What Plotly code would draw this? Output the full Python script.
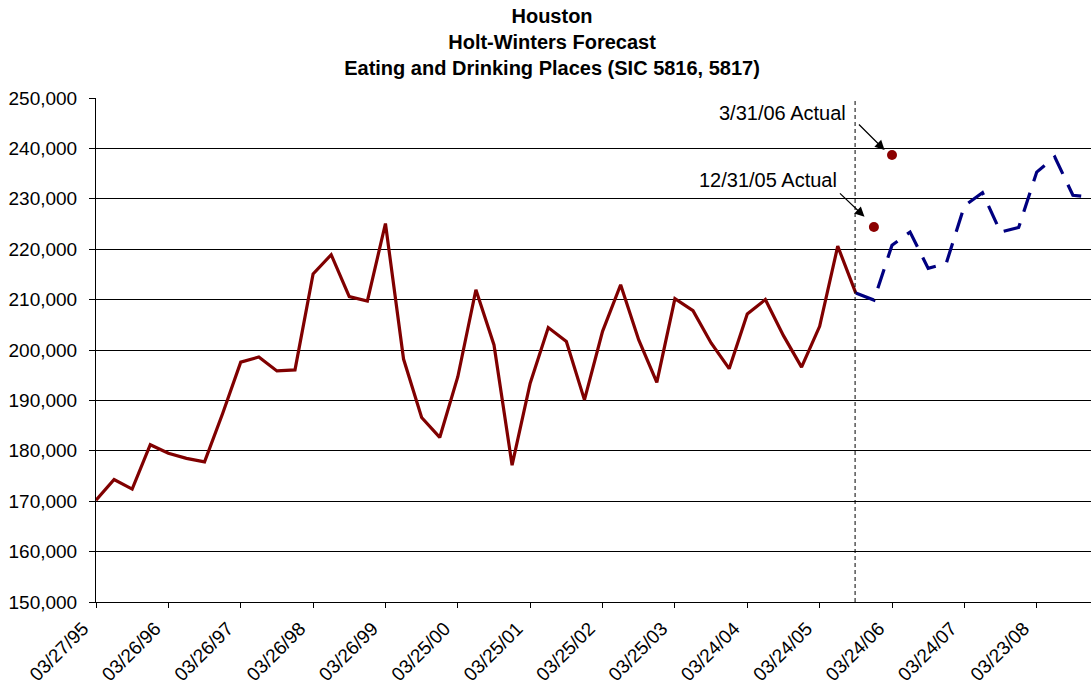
import plotly.graph_objects as go

# Year tick labels (one per four quarters, starting Q1 1995)
tick_labels = ["03/27/95", "03/26/96", "03/26/97", "03/26/98", "03/26/99",
               "03/25/00", "03/25/01", "03/25/02", "03/25/03", "03/24/04",
               "03/24/05", "03/24/06", "03/24/07", "03/23/08"]

# Quarterly employment, Q1 1995 .. Q3 2005
actual_sales = [170200, 174300, 172400, 181200, 179500, 178500, 177800, 187400,
                197600, 198600, 195850, 196050, 215100, 218900, 210600, 209700,
                225100, 198200, 186600, 182650, 194700, 211950, 201000, 177150,
                193400, 204450, 201700, 190100, 203700, 212950, 202000, 193560,
                210200, 207800, 201400, 196300, 207150, 210000, 202850, 196600,
                204700, 220600, 211300]

# Holt-Winters forecast, Q3 2005 .. Q4 2008
forecast_sales = [211300, 209900, 220800, 223400, 216200, 217200, 228600,
                  231200, 223400, 224300, 235300, 238300, 230700, 230300]

# Later actual observations
check_labels = ["12/31/05 Actual", "3/31/06 Actual"]
check_values = [224400, 238700]

FONT = "Liberation Sans, Arial, sans-serif"

n_act = len(actual_sales)
x_act = list(range(n_act))
x_fc = list(range(n_act - 1, n_act - 1 + len(forecast_sales)))
x_chk = [n_act, n_act + 1]
tick_vals = [4 * i for i in range(len(tick_labels))]

fig = go.Figure()
fig.add_trace(go.Scatter(x=x_act, y=actual_sales, mode="lines",
                         line=dict(color="#800000", width=3.2),
                         showlegend=False))
fig.add_trace(go.Scatter(x=x_fc, y=forecast_sales, mode="lines",
                         line=dict(color="#000080", width=3.2, dash="20px,12px"),
                         showlegend=False))
fig.add_trace(go.Scatter(x=x_chk, y=check_values, mode="markers",
                         marker=dict(color="#8B0000", size=10),
                         showlegend=False))

# Forecast start marker
fig.add_shape(type="line", x0=n_act - 1.04, x1=n_act - 1.04, y0=0, y1=1,
              xref="x", yref="paper",
              line=dict(color="black", width=1, dash="4px,3px"))

# Text labels for the actual observations
label_pos = [(37.17, 233700), (37.95, 247000)]
for (lx, ly), txt in zip(label_pos, check_labels):
    fig.add_annotation(x=lx, y=ly, text=txt, showarrow=False,
                       xanchor="center", yanchor="middle",
                       font=dict(family=FONT, size=20, color="black"))

# Arrows pointing at the observations
arrows = [((42.48, 226450), (41.04, 231350)),
          ((43.59, 239680), (42.09, 245040))]
for (hx, hy), (tx, ty) in arrows:
    fig.add_annotation(x=hx, y=hy, ax=tx, ay=ty, axref="x", ayref="y",
                       text="", showarrow=True, arrowhead=2, arrowsize=1.6,
                       arrowwidth=1.2, arrowcolor="black")

fig.update_layout(
    width=1091, height=687,
    margin=dict(l=96, r=0, t=98, b=85),
    paper_bgcolor="white", plot_bgcolor="white",
    font=dict(family=FONT, color="black"),
    title=dict(
        text="Houston<br>Holt-Winters Forecast<br>Eating and Drinking Places (SIC 5816, 5817)",
        x=0.506, xref="container", xanchor="center",
        y=0.967, yref="container", yanchor="top",
        font=dict(family=FONT, size=20, color="black", weight="bold")),
)
fig.update_xaxes(range=[0, 55], tickvals=tick_vals, ticktext=tick_labels,
                 tickangle=-45, tickfont=dict(family=FONT, size=19, color="black"),
                 ticklabelstandoff=2, ticklabelshift=-13,
                 showgrid=False, zeroline=False, showline=True, linecolor="black",
                 linewidth=1, ticks="outside", ticklen=5, tickcolor="black")
fig.update_yaxes(range=[150000, 250000], dtick=10000, tickformat=",",
                 tickfont=dict(family=FONT, size=19, color="black"),
                 ticklabelstandoff=8,
                 showgrid=True, gridcolor="black", gridwidth=1, zeroline=False,
                 showline=True, linecolor="black", linewidth=1,
                 ticks="outside", ticklen=6, tickcolor="black")

fig.write_html("out.html")
